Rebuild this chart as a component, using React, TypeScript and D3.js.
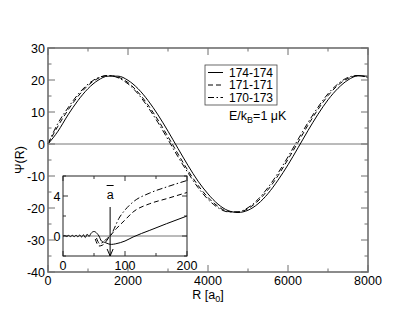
import React from "react";
import * as d3 from "d3";

// main panel: Psi(R) sampled every 250 a0
const mainR = d3.range(0, 8001, 250);
const psi174 = [0, 4.0, 9.1, 13.6, 17.3, 19.9, 21.2, 21.2, 19.9, 17.3, 13.6, 9.1, 4.0, -1.4, -6.7, -11.6, -15.6, -18.8, -20.8, -21.4, -20.7, -18.7, -15.5, -11.3, -6.5, -1.2, 4.2, 9.3, 13.8, 17.4, 20.0, 21.3, 21.2];
const psi171 = [0, 5.6, 10.6, 14.9, 18.3, 20.5, 21.4, 20.9, 19.2, 16.2, 12.2, 7.5, 2.3, -3.1, -8.3, -12.9, -16.7, -19.5, -21.1, -21.3, -20.2, -17.8, -14.3, -9.9, -4.8, 0.5, 5.9, 10.8, 15.1, 18.4, 20.5, 21.4, 20.9];
const psi170 = [0, 6.5, 11.3, 15.5, 18.7, 20.7, 21.4, 20.7, 18.8, 15.7, 11.5, 6.7, 1.4, -4.0, -9.0, -13.6, -17.3, -19.9, -21.2, -21.2, -19.9, -17.3, -13.6, -9.1, -4.0, 1.4, 6.7, 11.5, 15.7, 18.8, 20.8, 21.4, 20.7];

// inset: short range
const insetR174 = [0, 3, 6, 9, 12, 15, 18, 21, 24, 27, 30, 33, 36, 39, 42, 45, 50, 55, 58, 62, 68, 74, 78, 85, 100, 113, 140, 167, 200];
const insetPsi174 = [0, 0.05, -0.05, 0.06, -0.06, 0.07, -0.07, 0.08, -0.08, 0.1, -0.1, 0.12, -0.15, 0.18, -0.05, 0.25, 0.45, 0.25, 0, -0.5, -0.65, -0.8, -0.84, -0.78, -0.5, -0.1, 0.57, 1.23, 2.0];
const insetR171 = [52, 58, 64, 70, 76, 86, 100, 113, 140, 167, 200];
const insetPsi171 = [-0.3, -1.0, -0.9, -0.5, 0.0, 0.73, 1.6, 2.4, 3.23, 3.73, 4.35];
const insetR170 = [54, 59, 65, 70, 76, 91.5, 100, 113, 140, 167, 200];
const insetPsi170 = [-0.2, -0.75, -0.6, -0.3, 0.0, 1.9, 2.6, 3.4, 4.3, 4.9, 5.55];
const aBar = 76;

const mainXTicks = [0, 2000, 4000, 6000, 8000];
const mainYTicks = [-40, -30, -20, -10, 0, 10, 20, 30];
const insetXTicks = [0, 100, 200];
const insetYTicks = [0, 4];
const legendLabels = ["174-174", "171-171", "170-173"];
const dashes = [null, "5,3", "6,2.5,1.5,2.5"];

const font = "'Liberation Sans', Arial, Helvetica, sans-serif";

export default function App() {
  const x = d3.scaleLinear().domain([0, 8000]).range([48, 368]);
  const y = d3.scaleLinear().domain([-40, 30]).range([272, 48]);
  const ix = d3.scaleLinear().domain([0, 200]).range([63, 187]);
  const iy = d3.scaleLinear().domain([-2, 6]).range([256, 176]);

  const mainLine = d3.line<number>().x((d, i) => x(mainR[i])).y(d => y(d)).curve(d3.curveMonotoneX);
  const insetLine = (rs: number[]) =>
    d3.line<number>().x((d, i) => ix(rs[i])).y(d => iy(d)).curve(d3.curveMonotoneX);

  const mainSeries = [psi174, psi171, psi170];
  const insetSeries = [
    { r: insetR174, v: insetPsi174 },
    { r: insetR171, v: insetPsi171 },
    { r: insetR170, v: insetPsi170 },
  ];

  const [x0, x1] = x.range();
  const [y0, y1] = y.range();
  const [ix0, ix1] = ix.range();
  const [iy0, iy1] = iy.range();

  const frame = "#6e6e6e";

  return (
    <svg width={415} height={321} style={{ position: "absolute", left: 0, top: 0, background: "#fff" }} fontFamily={font}>
      {/* zero line */}
      <line x1={x0} x2={x1} y1={y(0)} y2={y(0)} stroke="#777" strokeWidth={1} />

      {/* main curves */}
      {mainSeries.map((s, i) => (
        <path key={i} d={mainLine(s) || ""} fill="none" stroke="#000" strokeWidth={1}
          strokeDasharray={dashes[i] || undefined} />
      ))}

      {/* main ticks */}
      {x.ticks(8).map(t => {
        const major = mainXTicks.includes(t);
        const l = major ? 7 : 3.5;
        return (
          <g key={"xt" + t} stroke={frame} strokeWidth={1}>
            <line x1={x(t)} x2={x(t)} y1={y0} y2={y0 - l} />
            <line x1={x(t)} x2={x(t)} y1={y1} y2={y1 + l} />
          </g>
        );
      })}
      {y.ticks(14).map(t => {
        const major = mainYTicks.includes(t);
        const l = major ? 7 : 3.5;
        return (
          <g key={"yt" + t} stroke={frame} strokeWidth={1}>
            <line x1={x0} x2={x0 + l} y1={y(t)} y2={y(t)} />
            <line x1={x1} x2={x1 - l} y1={y(t)} y2={y(t)} />
          </g>
        );
      })}
      <rect x={x0} y={y1} width={x1 - x0} height={y0 - y1} fill="none" stroke={frame} strokeWidth={1.6} />

      {/* main tick labels */}
      {mainXTicks.map(t => (
        <text key={"xl" + t} x={x(t)} y={285} fontSize={12.5} textAnchor="middle">{t}</text>
      ))}
      {mainYTicks.map(t => (
        <text key={"yl" + t} x={45} y={y(t)} dy="0.36em" fontSize={12.5} textAnchor="end">{t}</text>
      ))}
      <text x={208} y={299} fontSize={12.5} textAnchor="middle">
        R [a<tspan fontSize={9} dy={3}>0</tspan><tspan dy={-3}>]</tspan>
      </text>
      <text transform="translate(24,160) rotate(-90)" fontSize={12.5} textAnchor="middle">Ψ(R)</text>

      {/* legend */}
      <rect x={205} y={65} width={72} height={40} fill="#fff" stroke="#444" strokeWidth={0.8} />
      {legendLabels.map((lab, i) => {
        const ly = 72.5 + i * 12.5;
        return (
          <g key={lab}>
            <line x1={208} x2={223} y1={ly} y2={ly} stroke="#000" strokeWidth={1}
              strokeDasharray={dashes[i] || undefined} />
            <text x={229} y={ly} dy="0.36em" fontSize={12}>{lab}</text>
          </g>
        );
      })}
      <text x={229} y={120} fontSize={12.5}>
        E/k<tspan fontSize={9} dy={3}>B</tspan><tspan dy={-3}>=1 μK</tspan>
      </text>

      {/* inset */}
      <rect x={ix0} y={iy1} width={ix1 - ix0} height={iy0 - iy1} fill="#fff" stroke="none" />
      <line x1={ix0} x2={ix1} y1={iy(0)} y2={iy(0)} stroke="#777" strokeWidth={1} />
      {insetSeries.map((s, i) => (
        <path key={"in" + i} d={insetLine(s.r)(s.v) || ""} fill="none" stroke="#000" strokeWidth={1}
          strokeDasharray={dashes[i] || undefined} />
      ))}
      {ix.ticks(4).map(t => {
        const major = insetXTicks.includes(t);
        const l = major ? 5 : 3;
        return (
          <g key={"ixt" + t} stroke="#333" strokeWidth={1}>
            <line x1={ix(t)} x2={ix(t)} y1={iy0} y2={iy0 - l} />
            <line x1={ix(t)} x2={ix(t)} y1={iy1} y2={iy1 + l} />
          </g>
        );
      })}
      {iy.ticks(4).map(t => {
        const major = insetYTicks.includes(t);
        const l = major ? 5 : 3;
        return (
          <g key={"iyt" + t} stroke="#333" strokeWidth={1}>
            <line x1={ix0} x2={ix0 + l} y1={iy(t)} y2={iy(t)} />
            <line x1={ix1} x2={ix1 - l} y1={iy(t)} y2={iy(t)} />
          </g>
        );
      })}
      <rect x={ix0} y={iy1} width={ix1 - ix0} height={iy0 - iy1} fill="none" stroke="#222" strokeWidth={1} />
      {insetXTicks.map(t => (
        <text key={"ixl" + t} x={ix(t)} y={270} fontSize={12.5} textAnchor="middle">{t}</text>
      ))}
      {insetYTicks.map(t => (
        <text key={"iyl" + t} x={60.5} y={iy(t)} dy="0.36em" fontSize={12.5} textAnchor="end">{t}</text>
      ))}

      {/* a-bar arrow */}
      <line x1={ix(aBar)} x2={ix(aBar)} y1={207} y2={iy0} stroke="#000" strokeWidth={1} />
      <path d={`M${ix(aBar) - 3},${iy0 - 7} L${ix(aBar)},${iy0} L${ix(aBar) + 3},${iy0 - 7}`}
        fill="none" stroke="#000" strokeWidth={1} />
      <text x={ix(aBar)} y={199} fontSize={12.5} textAnchor="middle">a</text>
      <line x1={ix(aBar) - 3.5} x2={ix(aBar) + 3.5} y1={185.5} y2={185.5} stroke="#000" strokeWidth={1} />
    </svg>
  );
}
